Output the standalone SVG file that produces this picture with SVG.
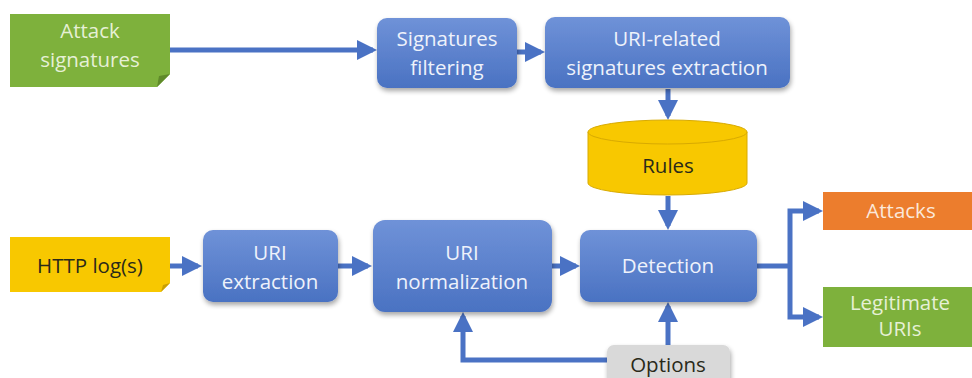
<svg xmlns="http://www.w3.org/2000/svg" width="972" height="378" viewBox="0 0 972 378">
  <defs>
    <linearGradient id="blueFill" x1="0" y1="0" x2="0" y2="1">
      <stop offset="0" stop-color="#6f92d8"/>
      <stop offset="1" stop-color="#4a72c2"/>
    </linearGradient>
    <filter id="shadow" x="-10%" y="-10%" width="125%" height="135%">
      <feGaussianBlur in="SourceAlpha" stdDeviation="2.5"/>
      <feOffset dx="1" dy="3"/>
      <feComponentTransfer><feFuncA type="linear" slope="0.35"/></feComponentTransfer>
      <feMerge><feMergeNode/><feMergeNode in="SourceGraphic"/></feMerge>
    </filter>
    <marker id="arrow" markerWidth="4" markerHeight="4" refX="3.2" refY="2" orient="auto" markerUnits="strokeWidth">
      <path d="M0,0 L4,2 L0,4 Z" fill="#4a72c4"/>
    </marker>
  </defs>
  <style>
    text { font-family: "Open Sans", "Liberation Sans", sans-serif; font-size: 20.5px; text-anchor: middle; }
    .proc { fill: url(#blueFill); filter: url(#shadow); }
    .light { fill: #eef2fb; }
    .dark { fill: #2a2a1a; }
    .green-text { fill: #e6f0d6; }
    .conn { fill: none; stroke: #4a72c4; stroke-width: 5; marker-end: url(#arrow); }
    .line { fill: none; stroke: #4a72c4; stroke-width: 5; }
  </style>
  <rect width="972" height="378" fill="#ffffff"/>

  <g id="connectors">
    <path class="conn" d="M170,50 H373"/>
    <path class="conn" d="M517,52 H541"/>
    <path class="conn" d="M668,89 V116"/>
    <path class="conn" d="M668,196 V226"/>
    <path class="conn" d="M170,266 H198"/>
    <path class="conn" d="M338,266 H368"/>
    <path class="conn" d="M552,266 H576"/>
    <path class="line" d="M757,266 H790"/>
    <path class="conn" d="M790,266 V211 H819"/>
    <path class="conn" d="M790,266 V317 H819"/>
    <path class="conn" d="M607,360 H463 V316"/>
    <path class="conn" d="M668,345 V306"/>
  </g>

  <g id="attack-signatures">
    <path d="M10,14 H170 V74 L157,87 H10 Z" fill="#7eb13c"/>
    <path d="M157,87 L159,76 L170,74 Z" fill="#5f8a2a"/>
    <text x="90" y="38" class="green-text">Attack</text>
    <text x="90" y="67" class="green-text">signatures</text>
  </g>

  <g id="signatures-filtering">
    <rect class="proc" x="377" y="18" width="140" height="70" rx="10"/>
    <text x="447" y="46" class="light">Signatures</text>
    <text x="447" y="75" class="light">filtering</text>
  </g>

  <g id="uri-signatures-extraction">
    <rect class="proc" x="545" y="17" width="245" height="71" rx="10"/>
    <text x="667" y="46" class="light">URI-related</text>
    <text x="667" y="75" class="light">signatures extraction</text>
  </g>

  <g id="rules">
    <path d="M588,132 V183 A79.5,12 0 0 0 747,183 V132 Z" fill="#f8c800" stroke="#d8aa00" stroke-width="1"/>
    <ellipse cx="667.5" cy="132" rx="79.5" ry="12" fill="#f8c800" stroke="#d8aa00" stroke-width="1"/>
    <text x="668" y="173" class="dark">Rules</text>
  </g>

  <g id="http-logs">
    <path d="M10,237 H170 V283 L161,292 H10 Z" fill="#f8c800"/>
    <path d="M161,292 L163,285 L170,283 Z" fill="#c99f00"/>
    <text x="90" y="273" class="dark">HTTP log(s)</text>
  </g>

  <g id="uri-extraction">
    <rect class="proc" x="203" y="230" width="135" height="72" rx="10"/>
    <text x="270" y="260" class="light">URI</text>
    <text x="270" y="289" class="light">extraction</text>
  </g>

  <g id="uri-normalization">
    <rect class="proc" x="373" y="220" width="179" height="92" rx="12"/>
    <text x="462" y="260" class="light">URI</text>
    <text x="462" y="289" class="light">normalization</text>
  </g>

  <g id="detection">
    <rect class="proc" x="580" y="230" width="177" height="72" rx="10"/>
    <text x="668" y="273" class="light">Detection</text>
  </g>

  <g id="options">
    <rect x="607" y="345" width="123" height="45" rx="7" fill="#d9d9d9" filter="url(#shadow)"/>
    <text x="668" y="372" class="dark">Options</text>
  </g>

  <g id="attacks">
    <rect x="823" y="192" width="152" height="38" fill="#ec7d2d"/>
    <text x="901" y="218" style="fill:#fbe8da">Attacks</text>
  </g>

  <g id="legitimate-uris">
    <rect x="823" y="287" width="152" height="60" fill="#7eb13c"/>
    <text x="900" y="310" class="green-text">Legitimate</text>
    <text x="900" y="336" class="green-text">URIs</text>
  </g>
</svg>
